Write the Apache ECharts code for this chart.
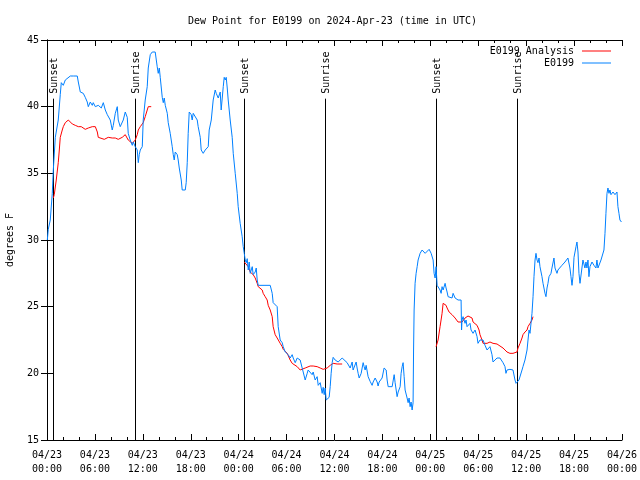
<!DOCTYPE html>
<html>
<head>
<meta charset="utf-8">
<script src="https://cdn.jsdelivr.net/npm/echarts@6/dist/echarts.min.js"></script>
<style>
html,body{margin:0;padding:0;background:#fff;}
#chart{width:640px;height:480px;}
</style>
</head>
<body>
<div id="chart"></div>
<script>
// Hours since 2024-04-23 00:00 UTC
var tickLabels = ["04/23\n00:00","04/23\n06:00","04/23\n12:00","04/23\n18:00","04/24\n00:00","04/24\n06:00","04/24\n12:00","04/24\n18:00","04/25\n00:00","04/25\n06:00","04/25\n12:00","04/25\n18:00","04/26\n00:00"];

var eventHours = [0.70, 10.96, 24.73, 34.87, 48.69, 58.90];
var eventNames = ["Sunset","Sunrise","Sunset","Sunrise","Sunset","Sunrise"];

var blueHours = [0.04,0.16,0.41,0.66,0.79,1.04,1.41,1.66,1.79,2.04,2.29,2.54,2.92,3.29,3.79,3.92,4.17,4.54,4.79,5.04,5.17,5.42,5.67,5.79,6.05,6.42,6.80,7.05,7.30,7.55,7.92,8.17,8.30,8.55,8.80,8.92,9.17,9.42,9.55,9.80,10.05,10.17,10.42,10.68,10.80,11.05,11.30,11.43,11.55,11.68,11.93,12.05,12.30,12.55,12.68,12.93,13.18,13.55,13.68,13.80,13.93,14.06,14.18,14.43,14.56,14.68,14.81,15.06,15.18,15.43,15.68,15.81,15.93,16.06,16.31,16.43,16.56,16.81,16.93,17.06,17.31,17.43,17.56,17.68,17.81,18.06,18.18,18.31,18.56,18.81,18.93,19.19,19.31,19.56,19.81,20.06,20.19,20.31,20.57,20.69,20.81,21.06,21.19,21.31,21.44,21.69,21.81,22.07,22.19,22.32,22.44,22.57,22.69,22.94,23.19,23.32,23.57,23.82,23.94,24.19,24.44,24.57,24.70,24.82,24.95,25.07,25.20,25.32,25.45,25.70,25.82,25.95,26.07,26.20,26.32,26.45,27.95,28.20,28.32,28.82,28.95,29.20,29.45,29.58,29.83,29.95,30.20,30.45,30.70,30.83,31.08,31.33,31.45,31.70,31.95,32.08,32.33,32.58,32.70,32.95,33.20,33.33,33.58,33.83,33.96,34.21,34.46,34.58,34.71,34.83,34.96,35.21,35.33,35.46,35.58,35.71,35.83,36.08,36.33,36.46,36.71,36.96,37.08,37.58,37.96,38.21,38.33,38.58,38.71,38.83,38.96,39.09,39.34,39.46,39.59,39.71,39.84,39.96,40.09,40.21,40.46,40.71,40.84,41.09,41.34,41.46,41.59,41.96,42.09,42.21,42.47,42.59,42.72,43.22,43.34,43.47,43.59,43.84,43.97,44.22,44.34,44.47,44.59,44.72,44.84,45.09,45.22,45.34,45.47,45.59,45.72,45.84,45.90,45.97,46.09,46.22,46.35,46.47,46.72,46.97,47.10,47.35,47.60,47.85,48.10,48.35,48.47,48.60,48.72,48.85,48.97,49.22,49.35,49.47,49.60,49.85,49.97,50.10,50.22,50.47,50.72,50.85,51.10,51.35,51.47,51.85,51.91,51.97,52.10,52.22,52.35,52.47,52.60,52.72,52.97,53.10,53.35,53.47,53.60,53.85,53.97,54.22,54.47,54.60,54.85,55.10,55.22,55.47,55.72,55.85,56.10,56.35,56.47,56.72,56.97,57.10,57.35,57.47,57.60,57.97,58.35,58.60,58.73,58.85,59.10,59.23,59.48,59.60,59.85,60.11,60.23,60.36,60.48,60.73,60.86,60.98,61.11,61.23,61.36,61.48,61.61,61.73,61.98,62.11,62.36,62.48,62.61,62.73,62.86,63.11,63.23,63.36,63.48,63.61,63.86,63.98,64.23,64.48,64.61,64.86,65.11,65.23,65.36,65.48,65.61,65.74,65.86,65.99,66.24,66.36,66.49,66.61,66.74,66.99,67.11,67.24,67.36,67.49,67.61,67.74,67.86,67.99,68.24,68.36,68.49,68.74,68.86,68.99,69.11,69.37,69.62,69.74,69.87,69.99,70.12,70.24,70.37,70.49,70.62,70.87,71.12,71.37,71.49,71.62,71.74,71.93];
var blueValues = [30.0,30.8,31.5,33.5,35.25,37.7,39.0,40.9,41.8,41.6,42.0,42.15,42.3,42.3,42.3,41.85,41.1,41.0,40.7,40.35,40.0,40.35,40.1,40.3,40.0,40.1,39.9,40.3,39.75,39.4,39.0,38.25,38.6,39.5,40.0,39.0,38.5,38.4,39.0,39.6,39.2,38.0,37.5,37.1,37.35,37.0,36.75,35.8,36.4,36.75,37.0,39.0,40.5,41.5,42.9,43.9,44.1,44.1,44.25,43.0,42.5,42.9,42.2,40.7,40.3,40.65,40.1,39.5,38.8,38.0,37.0,36.4,36.0,36.6,36.4,36.0,35.4,34.5,33.75,33.6,33.75,34.3,35.8,38.0,39.6,39.4,39.0,39.5,39.4,39.0,38.5,37.7,36.75,36.5,36.75,36.75,37.0,38.25,39.0,39.75,40.5,41.25,41.0,41.1,40.65,41.1,39.75,41.5,42.2,42.0,42.2,41.4,40.5,39.0,37.7,36.5,35.0,33.5,32.5,31.25,30.25,29.5,29.0,28.5,28.3,28.6,27.75,28.35,27.5,28.0,27.4,27.4,27.6,27.9,27.0,26.6,26.6,26.0,25.3,25.0,23.5,22.5,22.3,22.0,21.6,21.75,21.4,21.15,21.4,21.15,20.8,21.15,21.0,21.0,20.4,20.1,19.5,20.0,20.25,20.1,19.9,20.1,19.5,19.75,19.1,19.3,18.5,18.95,18.4,18.9,18.0,18.0,18.2,19.0,20.0,20.8,21.2,21.0,21.15,20.85,21.0,21.15,21.0,20.8,20.4,20.85,20.25,20.1,20.85,20.4,20.0,19.65,20.0,20.4,20.8,20.5,20.25,20.6,20.5,19.75,19.4,19.1,19.35,19.65,19.35,19.05,19.35,19.65,19.75,20.4,20.25,19.5,19.0,19.0,19.1,19.9,19.3,18.25,18.6,19.0,20.0,20.5,20.8,19.75,18.75,18.15,17.8,18.15,17.5,17.85,17.25,17.8,21.75,24.75,26.75,27.5,28.0,28.5,29.0,29.25,29.4,29.0,29.1,29.3,29.0,28.5,27.5,27.15,28.0,26.6,26.5,26.25,26.0,26.5,26.25,26.75,26.4,26.1,25.75,25.65,25.65,26.0,25.65,25.65,25.5,25.5,23.25,24.0,24.25,24.4,23.75,24.0,23.5,23.4,23.75,23.25,23.0,22.9,23.25,22.75,22.25,22.5,22.35,22.5,22.1,21.75,21.9,22.0,21.4,20.85,21.0,21.15,21.0,21.15,21.0,20.8,20.5,20.0,20.25,20.3,20.25,19.5,19.25,19.35,19.5,19.65,20.25,20.5,21.0,21.75,22.5,23.25,23.0,24.5,25.75,27.25,28.5,29.0,28.5,28.3,28.65,28.0,27.25,26.75,26.0,25.75,26.4,26.75,27.25,27.5,27.9,27.75,28.65,27.9,27.5,27.75,27.9,28.1,28.1,28.35,28.5,28.65,28.7,27.9,27.25,26.6,27.25,28.7,29.5,29.85,29.1,27.5,26.75,26.75,28.5,28.35,27.9,28.35,27.9,28.5,27.25,28.0,28.35,28.5,28.1,27.9,28.5,27.9,27.75,28.5,28.5,29.25,30.5,32.0,33.5,33.9,33.5,33.75,33.4,33.6,33.4,33.6,32.5,32.0,31.5,31.35];

var red1Hours = [0.79,0.91,1.16,1.41,1.54,1.66,1.91,2.04,2.29,2.54,2.67,2.92,3.17,3.54,3.92,4.29,4.79,5.17,5.67,6.05,6.30,6.42,6.67,7.17,7.67,8.17,8.55,8.92,9.42,9.80,9.92,10.17,10.42,10.68,10.80,11.05,11.30,11.43,11.68,11.93,12.05,12.30,12.55,12.68,13.05];
var red1Values = [33.15,33.4,34.5,35.8,36.75,37.7,38.25,38.5,38.8,38.9,39.0,38.85,38.7,38.6,38.5,38.5,38.3,38.4,38.5,38.5,38.1,37.7,37.55,37.55,37.7,37.65,37.65,37.55,37.7,37.9,37.8,37.5,37.35,37.25,37.1,37.5,37.9,38.25,38.5,38.55,38.8,39.25,39.75,40.0,40.0];

var red2Hours = [24.70,24.95,25.20,25.45,25.70,25.82,26.07,26.32,26.45,26.70,26.95,27.07,27.32,27.57,27.70,27.95,28.20,28.32,28.57,28.82,28.95,29.20,29.45,29.58,30.08,30.45,30.70,30.83,31.33,31.70,31.95,32.33,32.58,32.95,33.33,33.83,34.21,34.58,34.83,35.08,35.46,35.71,35.83,36.33,36.96];
var red2Values = [28.35,28.2,28.0,27.6,27.5,27.4,27.15,26.75,26.5,26.4,26.25,26.0,25.75,25.5,25.1,24.75,24.25,23.5,22.9,22.65,22.5,22.25,22.0,21.8,21.5,21.0,20.75,20.6,20.5,20.25,20.25,20.4,20.5,20.55,20.55,20.5,20.4,20.3,20.25,20.4,20.6,20.75,20.75,20.7,20.7];

var red3Hours = [48.72,48.85,48.97,49.22,49.47,49.60,49.72,49.97,50.10,50.35,50.72,50.85,51.10,51.35,51.47,51.72,51.97,52.10,52.35,52.60,52.72,52.97,53.22,53.35,53.60,53.85,53.97,54.10,54.22,54.47,54.60,54.85,55.10,55.22,55.47,55.85,56.10,56.35,56.72,57.10,57.35,57.60,57.72,57.97,58.35,58.60,58.85,58.98,59.23,59.48,59.60,59.85,60.11,60.23,60.48,60.73,60.86];
var red3Values = [22.0,22.0,22.5,23.5,24.5,25.25,25.35,25.1,24.9,24.6,24.4,24.25,24.15,24.0,23.85,23.75,23.85,24.0,24.15,24.3,24.3,24.25,24.15,23.85,23.75,23.6,23.5,23.25,22.9,22.5,22.25,22.1,22.25,22.35,22.35,22.25,22.25,22.2,22.05,21.9,21.75,21.6,21.5,21.5,21.5,21.6,21.6,21.9,22.25,22.65,22.9,23.1,23.25,23.5,23.75,24.0,24.25];

function zip(a, b) { return a.map(function (h, i) { return [h, b[i]]; }); }

var FONT = '"DejaVu Sans Mono", "Liberation Mono", monospace';
var RED = '#ff0000';
var BLUE = '#0080ff';
var eventLineTop = 40.6;

var chart = echarts.init(document.getElementById('chart'), null, {renderer: 'canvas'});

function xAxisCfg(pos, labels) {
  return {
    type: 'value', position: pos, min: 0, max: 72, interval: 6,
    axisLine: {show: true, onZero: false, lineStyle: {color: '#000', width: 1}},
    axisTick: {show: true, inside: true, length: 6, lineStyle: {color: '#000'}},
    minorTick: {show: true, splitNumber: 3, length: 3, lineStyle: {color: '#000'}},
    splitLine: {show: false},
    minorSplitLine: {show: false},
    axisLabel: labels ? {
      show: true, margin: 8, color: '#000', fontFamily: FONT, fontSize: 10, lineHeight: 14,
      showMinLabel: true, showMaxLabel: true,
      formatter: function (v) { return tickLabels[Math.round(v / 6)]; }
    } : {show: false}
  };
}
function yAxisCfg(pos, labels) {
  var c = {
    type: 'value', position: pos, min: 15, max: 45, interval: 5,
    axisLine: {show: true, lineStyle: {color: '#000', width: 1}},
    axisTick: {show: true, inside: true, length: 6, lineStyle: {color: '#000'}},
    splitLine: {show: false},
    axisLabel: labels ? {show: true, margin: 8, color: '#000', fontFamily: FONT, fontSize: 10} : {show: false}
  };
  if (labels) {
    c.name = 'degrees F';
    c.nameLocation = 'middle';
    c.nameGap = 32;
    c.nameTextStyle = {color: '#000', fontFamily: FONT, fontSize: 10};
  }
  return c;
}

function redSeries(h, v) {
  return {
    name: 'E0199 Analysis', type: 'line', data: zip(h, v),
    showSymbol: false, symbol: 'none', animation: false,
    lineStyle: {color: RED, width: 1}, itemStyle: {color: RED}, z: 2
  };
}

var option = {
  animation: false,
  backgroundColor: '#fff',
  title: {
    text: 'Dew Point for E0199 on 2024-Apr-23 (time in UTC)',
    left: 188, top: 16, padding: 0,
    textStyle: {color: '#000', fontFamily: FONT, fontSize: 10, fontWeight: 'normal'}
  },
  legend: {
    data: ['E0199 Analysis', 'E0199'],
    orient: 'vertical', right: 29, top: 45, padding: 0, align: 'right',
    itemWidth: 29, itemHeight: 1, itemGap: 0, icon: 'rect',
    textStyle: {color: '#000', fontFamily: FONT, fontSize: 10, lineHeight: 12, padding: [0, 3, 0, 0]}
  },
  grid: {left: 47, right: 18, top: 40, bottom: 40, containLabel: false, outerBoundsMode: 'none'},
  xAxis: [xAxisCfg('bottom', true), xAxisCfg('top', false)],
  yAxis: [yAxisCfg('left', true), yAxisCfg('right', false)],
  series: [
    {
      type: 'custom', silent: true, clip: false, animation: false, z: 1,
      data: eventHours.map(function (h) { return [h, 15]; }),
      renderItem: function (params, api) {
        var h = api.value(0);
        var top = api.coord([h, eventLineTop]);
        var bot = api.coord([h, 15]);
        var x = Math.round(top[0]) + 0.5;
        return {
          type: 'group',
          children: [
            {type: 'line', shape: {x1: x, y1: top[1], x2: x, y2: bot[1]}, style: {stroke: '#000', lineWidth: 1}},
            {type: 'text', x: x + 1, y: top[1] - 5, rotation: Math.PI / 2,
             style: {text: eventNames[params.dataIndex], fill: '#000', font: '10px ' + FONT, align: 'left', verticalAlign: 'middle'}}
          ]
        };
      }
    },
    redSeries(red1Hours, red1Values),
    redSeries(red2Hours, red2Values),
    redSeries(red3Hours, red3Values),
    {
      name: 'E0199', type: 'line', data: zip(blueHours, blueValues),
      showSymbol: false, symbol: 'none', animation: false,
      lineStyle: {color: BLUE, width: 1}, itemStyle: {color: BLUE}, z: 3
    }
  ]
};
chart.setOption(option);
</script>
</body>
</html>
